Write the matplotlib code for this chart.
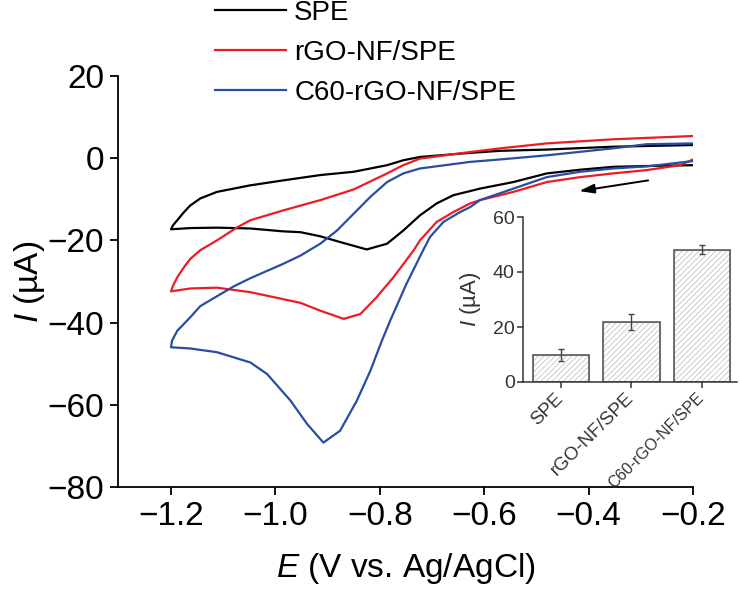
import matplotlib
matplotlib.use("Agg")
import matplotlib.pyplot as plt

plt.rcParams['font.family'] = ['Liberation Sans', 'DejaVu Sans']
plt.rcParams['mathtext.fontset'] = 'custom'
plt.rcParams['mathtext.rm'] = 'Liberation Sans'
plt.rcParams['mathtext.it'] = 'Liberation Sans:italic'
plt.rcParams['hatch.linewidth'] = 0.6

# CV curves: forward sweep -0.2 -> -1.2 V, then back to -0.2 V
e_spe = [-0.200, -0.289, -0.353, -0.416, -0.480, -0.544, -0.608, -0.627, -0.659, -0.691,
         -0.723, -0.755, -0.786, -0.825, -0.876, -0.914, -0.952, -0.985, -1.048, -1.112,
         -1.163, -1.200,
         -1.196, -1.188, -1.175, -1.163, -1.144, -1.112, -1.048, -0.985, -0.914, -0.850,
         -0.786, -0.755, -0.723, -0.627, -0.569, -0.480, -0.353, -0.200]
i_spe = [-1.7, -1.9, -2.1, -2.8, -3.7, -5.8, -7.4, -8.0, -9.0, -11.0,
         -13.9, -17.6, -20.8, -22.2, -20.4, -19.0, -18.0, -17.8, -17.1, -16.9,
         -17.0, -17.3,
         -16.3, -15.1, -13.1, -11.5, -9.8, -8.2, -6.6, -5.4, -4.1, -3.3,
         -1.7, -0.5, 0.3, 1.3, 1.8, 2.1, 2.8, 3.2]

e_rgo = [-0.200, -0.225, -0.289, -0.353, -0.416, -0.480, -0.544, -0.608, -0.627, -0.659,
         -0.691, -0.723, -0.735, -0.774, -0.806, -0.837, -0.869, -0.914, -0.952, -0.985,
         -1.048, -1.112, -1.163, -1.200,
         -1.196, -1.188, -1.175, -1.163, -1.144, -1.112, -1.073, -1.048, -0.985, -0.914,
         -0.850, -0.786, -0.755, -0.723, -0.627, -0.569, -0.480, -0.353, -0.200]
i_rgo = [-0.3, -1.7, -2.9, -3.7, -4.6, -5.8, -8.2, -10.2, -11.0, -13.1,
         -15.5, -20.0, -22.4, -29.0, -33.8, -37.9, -39.1, -37.1, -35.2, -34.3,
         -32.6, -31.5, -31.7, -32.4,
         -31.0, -29.0, -26.5, -24.5, -22.4, -20.0, -16.8, -15.1, -12.7, -10.2,
         -7.6, -3.7, -1.7, -0.1, 1.5, 2.4, 3.6, 4.6, 5.4]

e_c60 = [-0.200, -0.289, -0.353, -0.416, -0.480, -0.544, -0.608, -0.627, -0.646, -0.678,
         -0.704, -0.717, -0.749, -0.780, -0.796, -0.818, -0.844, -0.876, -0.908, -0.939,
         -0.971, -1.016, -1.048, -1.112, -1.163, -1.200,
         -1.198, -1.188, -1.163, -1.144, -1.112, -1.080, -1.048, -0.985, -0.952, -0.914,
         -0.882, -0.850, -0.818, -0.786, -0.755, -0.723, -0.627, -0.569, -0.480, -0.353,
         -0.289, -0.200]
i_c60 = [-0.7, -2.0, -2.5, -3.3, -4.6, -7.4, -10.2, -11.9, -13.1, -15.5,
         -19.2, -22.4, -30.6, -39.5, -44.4, -51.7, -59.0, -66.3, -69.2, -64.7,
         -59.0, -52.5, -49.7, -47.2, -46.3, -46.0,
         -44.4, -42.0, -38.7, -36.0, -33.6, -31.2, -29.2, -25.7, -23.7, -20.8,
         -17.6, -13.5, -9.4, -5.8, -3.7, -2.5, -0.9, -0.3, 0.7, 2.4,
         3.4, 3.6]

labels = ["SPE", "rGO-NF/SPE", "C60-rGO-NF/SPE"]
colors = ["black", "#ec1c24", "#2b4ca3"]

# inset: peak currents
bar_vals = [9.8, 21.8, 48.1]
bar_errs = [2.2, 3.0, 1.6]

fig = plt.figure(figsize=(7.4, 5.89), dpi=100)
ax = fig.add_axes([118 / 740, 1 - 487 / 589, 575 / 740, 411 / 589])

ax.plot(e_spe, i_spe, color=colors[0], lw=1.6, label=labels[0])
ax.plot(e_rgo, i_rgo, color=colors[1], lw=1.6, label=labels[1])
ax.plot(e_c60, i_c60, color=colors[2], lw=1.6, label=labels[2])

ax.set_xlim(-1.3015, -0.2)
ax.set_ylim(-80, 20)
ax.set_xticks([-1.2, -1.0, -0.8, -0.6, -0.4, -0.2])
ax.set_yticks([-80, -60, -40, -20, 0, 20])
ax.set_xticklabels(["\u22121.2", "\u22121.0", "\u22120.8", "\u22120.6", "\u22120.4", "\u22120.2"])
for s in ["top", "right"]:
    ax.spines[s].set_visible(False)
for s in ["left", "bottom"]:
    ax.spines[s].set_linewidth(1.3)
ax.tick_params(labelsize=24, length=6, width=1.3, pad=4)
ax.set_xlabel(r"$E$ (V vs. Ag/AgCl)", fontsize=24, labelpad=14)
ax.set_ylabel(r"$I$ (µA)", fontsize=24, labelpad=0)

# scan direction arrow
ax.annotate("", xy=(-0.418, -8.0), xytext=(-0.286, -5.4),
            arrowprops=dict(arrowstyle="-|>,head_length=0.9,head_width=0.28",
                            color="black", lw=1.4, mutation_scale=10,
                            shrinkA=0, shrinkB=0))

fig.legend(loc="upper left", bbox_to_anchor=(215 / 740, 1.0), frameon=False,
           fontsize=20, handlelength=2.55, handletextpad=0.3, labelspacing=0.5,
           borderpad=0, borderaxespad=0)

# inset bar chart
axi = fig.add_axes([523 / 740, 1 - 382 / 589, 214 / 740, 165 / 589])
axi.set_facecolor("none")
xpos = [0, 1, 2]
axi.bar(xpos, bar_vals, 0.8, color="white", edgecolor="#c4c4c4", hatch="//////", lw=0.8)
axi.bar(xpos, bar_vals, 0.8, fill=False, edgecolor="#5a5a5a", lw=1.2)
axi.errorbar(xpos, bar_vals, yerr=bar_errs, fmt="none", ecolor="#444444",
             elinewidth=1, capsize=2.5, capthick=1)
axi.set_xlim(-0.54, 2.5)
axi.set_ylim(0, 60)
axi.set_yticks([0, 20, 40, 60])
axi.set_xticks(xpos)
axi.set_xticklabels(labels, rotation=45, ha="right", va="center", rotation_mode="anchor")
for lab, fs in zip(axi.get_xticklabels(), [13.5, 13.5, 11.5]):
    lab.set_fontsize(fs)
for s in ["top", "right"]:
    axi.spines[s].set_visible(False)
for s in ["left", "bottom"]:
    axi.spines[s].set_linewidth(1.1)
    axi.spines[s].set_color("#333333")
axi.tick_params(axis="y", labelsize=14, length=4, width=1.1, color="#333333", labelcolor="#333333", pad=2)
axi.tick_params(axis="x", length=4, width=1.1, color="#333333", labelcolor="#333333", pad=6)
axi.set_ylabel(r"$I$ (µA)", fontsize=16, color="#333333", labelpad=7)

fig.savefig("out.png", dpi=100)
